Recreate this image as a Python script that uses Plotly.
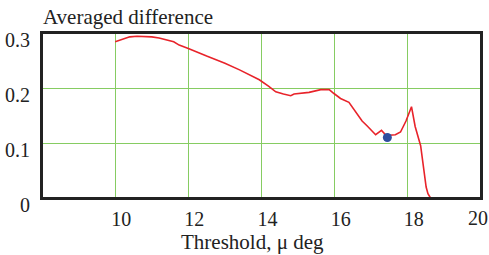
import plotly.graph_objects as go

threshold = [10.0, 10.2, 10.4, 10.6, 10.8, 11.0, 11.2, 11.4, 11.6, 11.75, 12.0, 12.5, 13.0, 13.4,
             13.66, 13.94, 14.2, 14.39, 14.6, 14.8, 14.89, 15.1, 15.3, 15.62, 15.85, 15.98, 16.16,
             16.39, 16.62, 16.75, 16.89, 17.0, 17.12, 17.28, 17.39, 17.5, 17.66, 17.8, 17.95, 18.1,
             18.2, 18.35, 18.5, 18.55, 18.62]
avg_diff = [0.284, 0.289, 0.293, 0.294, 0.294, 0.293, 0.291, 0.287, 0.284, 0.278, 0.272, 0.258,
            0.245, 0.233, 0.224, 0.215, 0.203, 0.193, 0.189, 0.186, 0.189, 0.190, 0.192, 0.197,
            0.197, 0.190, 0.181, 0.174, 0.151, 0.140, 0.131, 0.123, 0.115, 0.123, 0.115, 0.114,
            0.115, 0.120, 0.140, 0.166, 0.130, 0.095, 0.020, 0.008, 0.0]
best_x = [17.44]
best_y = [0.110]

x_ticks = [10, 12, 14, 16, 18, 20]
x_ticktext = ["10", "12", "14", "16", "18", "20"]
y_ticks = [0, 0.1, 0.2, 0.3]
y_ticktext = ["0", "0.1", "0.2", "0.3"]

FONT = "Liberation Serif, Times New Roman, serif"
GRID = "#86cc62"
TICKFONT = dict(family=FONT, size=20, color="#222")

fig = go.Figure()
fig.add_trace(go.Scatter(x=threshold, y=avg_diff, mode="lines",
                         line=dict(color="#e8232a", width=1.6), showlegend=False))
fig.add_trace(go.Scatter(x=best_x, y=best_y, mode="markers",
                         marker=dict(color="#2f4e9e", size=9), showlegend=False))

# last x tick label sits just inside the right edge; draw it as text at its tick value
edge_labels = [dict(text=x_ticktext[-1], x=x_ticks[-1], y=0, xref="x", yref="y",
                    xanchor="center", yanchor="top", xshift=-3, yshift=-7, showarrow=False,
                    font=TICKFONT)]

fig.update_layout(
    width=489, height=255,
    margin=dict(l=42, r=8, t=33, b=57, autoexpand=False),
    paper_bgcolor="white", plot_bgcolor="white",
    font=dict(family=FONT, size=20, color="#222"),
    xaxis=dict(range=[8, 20], tickvals=x_ticks, ticktext=x_ticktext[:-1] + [""],
               showgrid=True, gridcolor=GRID, gridwidth=1.3,
               showline=True, linecolor="#222", linewidth=2, mirror=True, zeroline=False,
               ticks="", ticklabelshift=6, ticklabelstandoff=2, automargin=False,
               ticklabeloverflow="allow", tickfont=TICKFONT),
    yaxis=dict(range=[0, 0.3], tickvals=y_ticks, ticktext=y_ticktext, showgrid=True,
               gridcolor=GRID, gridwidth=1.3, showline=True, linecolor="#222", linewidth=2,
               mirror=True, zeroline=False, ticks="", ticklabelshift=7, ticklabelstandoff=6,
               automargin=False, ticklabeloverflow="allow", tickfont=TICKFONT),
    shapes=[dict(type="rect", xref="paper", yref="paper", x0=0, x1=1, y0=0, y1=1,
                 line=dict(color="#222", width=2), fillcolor="rgba(0,0,0,0)", layer="above")],
    annotations=[
        dict(text="Averaged difference", xref="paper", yref="paper", x=-0.003, y=1.0,
             xanchor="left", yanchor="bottom", yshift=2, showarrow=False,
             font=dict(family=FONT, size=21, color="#222")),
        dict(text="Threshold, μ deg", xref="paper", yref="paper", x=0.48, y=0,
             xanchor="center", yanchor="top", yshift=-30, showarrow=False,
             font=dict(family=FONT, size=21, color="#222")),
    ] + edge_labels,
)

fig.write_html("out.html", config={"displayModeBar": False},
               post_script="document.body.style.margin='0';document.body.style.overflow='hidden';")
